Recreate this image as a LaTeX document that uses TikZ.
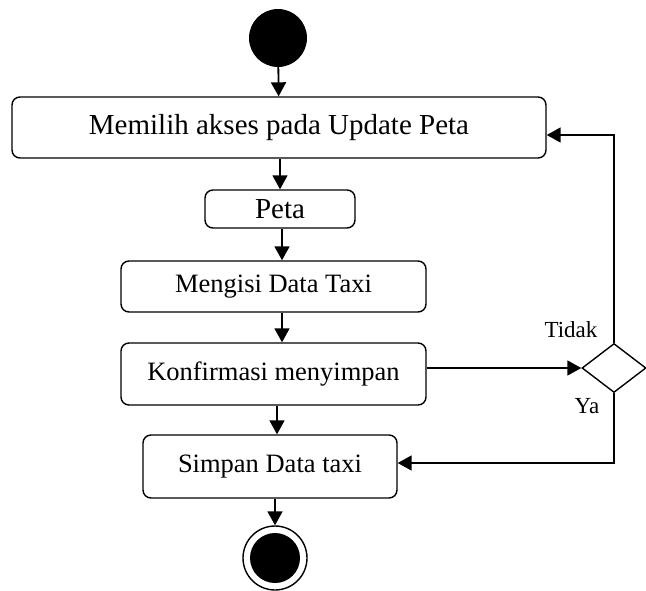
\documentclass[tikz,border=0pt]{standalone}
\usepackage{fontspec}
\setmainfont{Liberation Serif}
\usetikzlibrary{positioning,shapes.geometric,arrows.meta}

\begin{document}
\begin{tikzpicture}[x=1pt,y=-1pt,
        act/.style={draw,rounded corners=8pt,line width=1.4pt,inner sep=0pt,align=center},
        flow/.style={line width=1.8pt,-{Triangle[length=14pt,width=15pt]}}]
        \useasboundingbox (0,0) rectangle (646,590);
        \node[circle,fill,inner sep=0pt,minimum size=58pt] at (278,38) (start){};
        \node[act,minimum width=534pt,minimum height=61pt,font=\fontsize{29}{32}\selectfont] at (279,127.5) (memilih){Memilih akses pada Update Peta};
        \node[act,minimum width=150pt,minimum height=38pt,font=\fontsize{29}{32}\selectfont] at (280,209) (peta){Peta};
        \node[act,minimum width=305pt,minimum height=51pt,font=\fontsize{26.5}{30}\selectfont] at (273.5,286.5) (mengisi){Mengisi Data Taxi};
        \node[act,minimum width=305pt,minimum height=62pt,font=\fontsize{26.5}{30}\selectfont] at (273.5,374) (konfirmasi){Konfirmasi menyimpan};
        \node[act,minimum width=254pt,minimum height=63pt,font=\fontsize{26.5}{30}\selectfont] at (270,466.5) (simpan){Simpan Data taxi};
        \node[diamond,draw,line width=1.4pt,inner sep=0pt,minimum width=64pt,minimum height=49pt] at (614,368) (cek){};
        \node[circle,draw,line width=1.4pt,inner sep=0pt,minimum size=64pt] at (275,558) (selesai){};
        \node[circle,fill,inner sep=0pt,minimum size=50pt] at (selesai) (selesaiisi){};
        \node[font=\fontsize{23}{26}\selectfont] at (571,330) (tidak){Tidak};
        \node[font=\fontsize{23}{26}\selectfont] at (587,406) (ya){Ya};

        \draw[flow] (start) -- (memilih);
        \draw[flow] (memilih.south -| peta) -- (peta);
        \draw[flow] (peta.south -| 282,0) -- (mengisi.north -| 282,0);
        \draw[flow] (mengisi.south -| 282,0) -- (konfirmasi.north -| 282,0);
        \draw[flow] (konfirmasi.south -| 277,0) -- (simpan.north -| 277,0);
        \draw[flow] (simpan.south -| selesai) -- (selesai);
        \draw[flow] (konfirmasi.east |- cek.west) -- (cek.west);
        \draw[flow] (cek.north) |- ([yshift=-7.5pt]memilih.east);
        \draw[flow] (cek.south) |- ([yshift=3.5pt]simpan.east);
      \end{tikzpicture}
\end{document}
